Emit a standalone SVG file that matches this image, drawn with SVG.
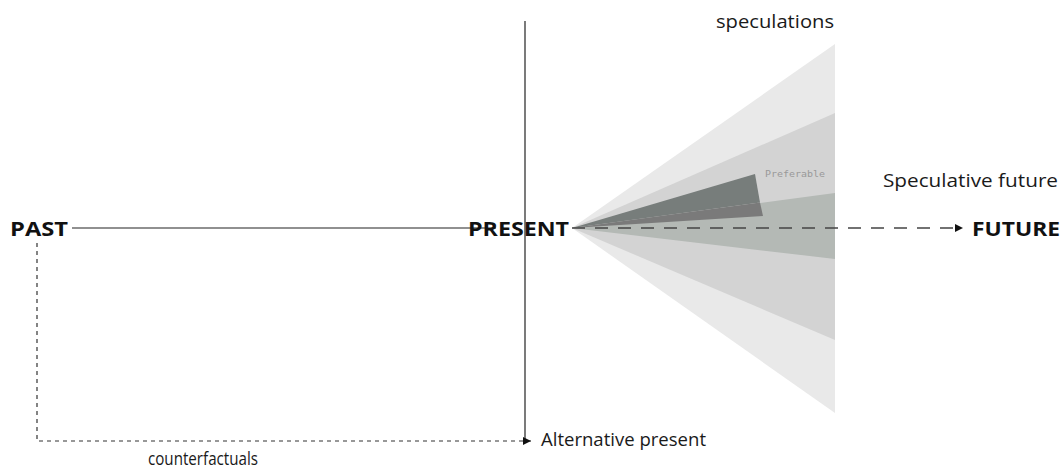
<svg xmlns="http://www.w3.org/2000/svg" width="1063" height="471" viewBox="0 0 1063 471">
<style>
.lbl{font-family:"Open Sans","Noto Sans",sans-serif;fill:#1a1a1a;font-size:19px}
.big{font-family:"Open Sans","Noto Sans",sans-serif;font-weight:bold;fill:#111;font-size:19.5px}
.ln{stroke:#222;stroke-width:1.2;fill:none}
.dash{stroke:#333;stroke-width:1.2;fill:none;stroke-dasharray:4 4}
.dash2{stroke:#444;stroke-width:1.3;fill:none;stroke-dasharray:13 10}
</style>
<defs>
<marker id="arr" viewBox="0 0 10 10" refX="10" refY="5" markerWidth="8" markerHeight="8" markerUnits="userSpaceOnUse" orient="auto">
<path d="M0,0 L10,5 L0,10 z" fill="#111"/>
</marker>
</defs>
<rect width="1063" height="471" fill="#fff"/>
<g id="cone">
<polygon points="572,228 835,44 835,413" fill="#e9e9e9"/>
<polygon points="572,228 835,113 835,340" fill="#d3d3d3"/>
<polygon points="572,228 835,193 835,259" fill="#b4b9b5"/>
<polygon points="572,228 755,174 760,202.6" fill="#777d7b"/>
<polygon points="572,228 760,202.6 763,216" fill="#7a7a7a"/>
</g>
<g id="connectors">
<line class="ln" x1="72" y1="228" x2="496" y2="228"/>
<line class="ln" x1="525" y1="21" x2="525" y2="441"/>
<line class="dash2" x1="572" y1="228" x2="963" y2="228" marker-end="url(#arr)"/>
<polyline class="dash" points="37,243 37,441 531,441" marker-end="url(#arr)"/>
</g>
<g id="past"><text class="big" x="10" y="236" textLength="58" lengthAdjust="spacingAndGlyphs">PAST</text></g>
<g id="present"><text class="big" x="468" y="236" textLength="101" lengthAdjust="spacingAndGlyphs">PRESENT</text></g>
<g id="future"><text class="big" x="972" y="236" textLength="88" lengthAdjust="spacingAndGlyphs">FUTURE</text></g>
<g id="speculations"><text class="lbl" x="716" y="28" textLength="118" lengthAdjust="spacingAndGlyphs">speculations</text></g>
<g id="speculative-future"><text class="lbl" x="883" y="187" textLength="175" lengthAdjust="spacingAndGlyphs">Speculative future</text></g>
<g id="preferable"><text x="765" y="177" font-family="'DejaVu Sans Mono','Liberation Mono',monospace" font-size="9" fill="#999" textLength="60" lengthAdjust="spacingAndGlyphs">Preferable</text></g>
<g id="alternative-present"><text class="lbl" x="541" y="446" textLength="165" lengthAdjust="spacingAndGlyphs">Alternative present</text></g>
<g id="counterfactuals"><text class="lbl" x="148" y="465" textLength="110" lengthAdjust="spacingAndGlyphs">counterfactuals</text></g>
</svg>
